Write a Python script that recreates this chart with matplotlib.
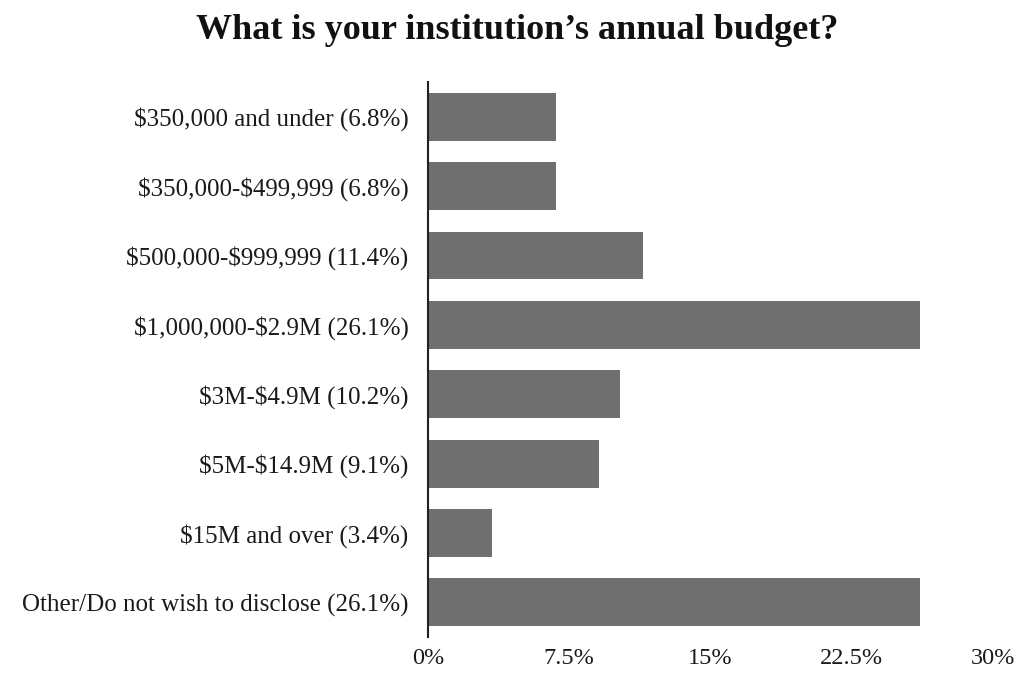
import matplotlib
matplotlib.use("Agg")
import matplotlib.pyplot as plt
from matplotlib.ticker import FixedLocator, FixedFormatter

categories = [
    "$350,000 and under (6.8%)",
    "$350,000-$499,999 (6.8%)",
    "$500,000-$999,999 (11.4%)",
    "$1,000,000-$2.9M (26.1%)",
    "$3M-$4.9M (10.2%)",
    "$5M-$14.9M (9.1%)",
    "$15M and over (3.4%)",
    "Other/Do not wish to disclose (26.1%)",
]
values = [6.8, 6.8, 11.4, 26.1, 10.2, 9.1, 3.4, 26.1]
x_ticks = [0, 7.5, 15, 22.5, 30]
x_tick_labels = ["0%", "7.5%", "15%", "22.5%", "30%"]

plt.rcParams["font.family"] = ["Liberation Serif", "DejaVu Serif"]
plt.rcParams["text.parse_math"] = False

fig = plt.figure(figsize=(10.25, 6.73), dpi=100)
ax = fig.add_axes([0.4176, 0.0535, 0.5512, 0.8245])

pos = list(range(len(categories)))
ax.barh(pos, values, height=0.69, color="#6f6f6f", edgecolor="none")
ax.set_ylim(len(categories) - 0.5, -0.5)
ax.set_xlim(0, 30)

ax.set_yticks(pos)
ax.set_yticklabels(categories, fontsize=18, color="#1a1a1a")
ax.xaxis.set_major_locator(FixedLocator(x_ticks))
ax.xaxis.set_major_formatter(FixedFormatter(x_tick_labels))
for lbl in ax.get_xticklabels():
    lbl.set_fontsize(17.5)
    lbl.set_color("#1a1a1a")

ax.tick_params(axis="y", length=0, pad=14)
ax.tick_params(axis="x", length=0, pad=8)

for side in ("top", "right", "bottom"):
    ax.spines[side].set_visible(False)
ax.spines["left"].set_color("#222222")
ax.spines["left"].set_linewidth(1.5)

fig.text(0.505, 0.955, "What is your institution\u2019s annual budget?",
         ha="center", va="center", fontsize=26, fontweight="bold", color="#111111")

fig.savefig("out.png", dpi=100, facecolor="white")
